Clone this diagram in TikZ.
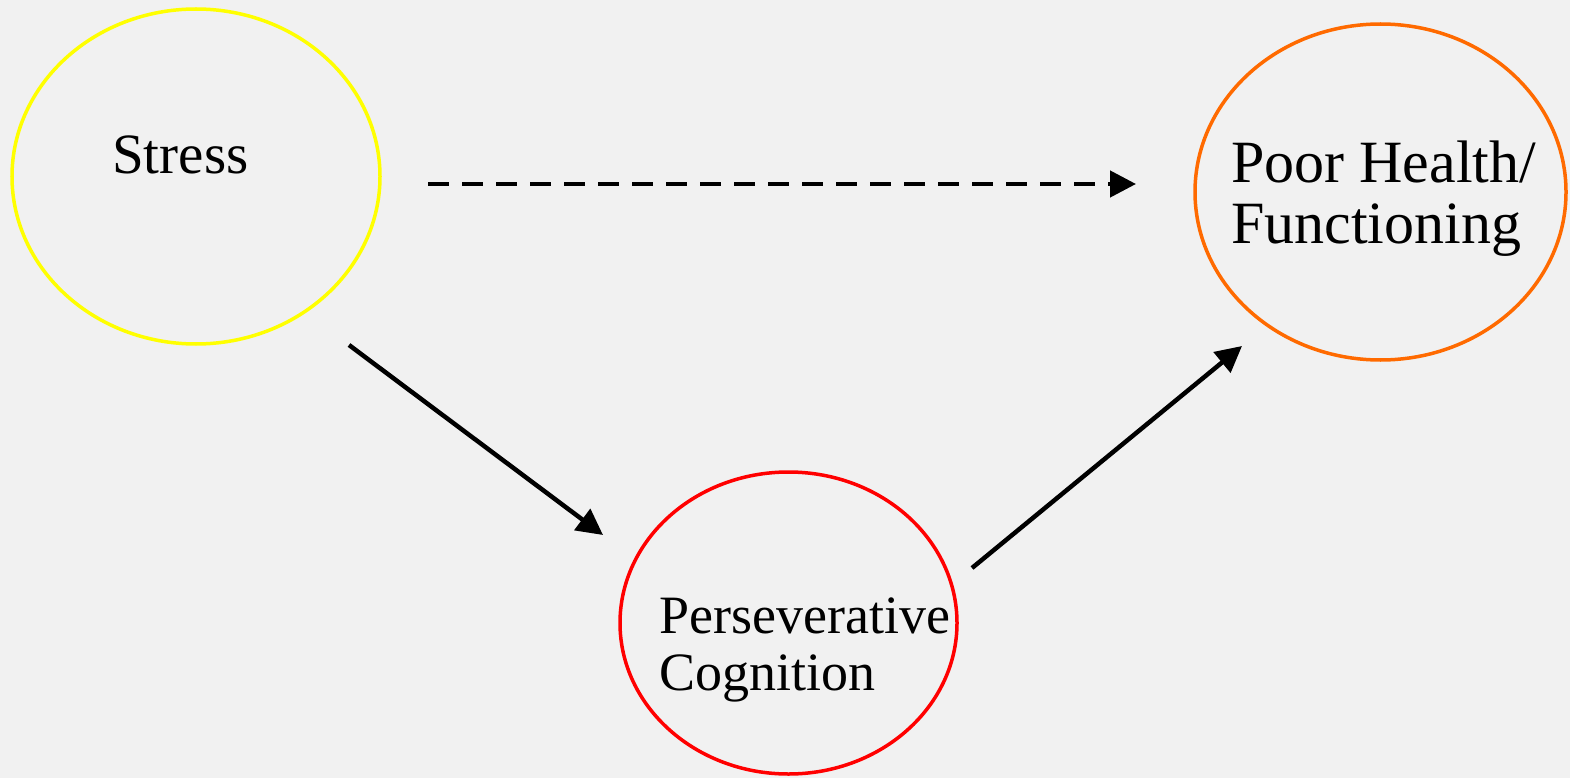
\documentclass[tikz,border=0pt]{standalone}
\usepackage{fontspec}
\setmainfont{Liberation Serif}
\usetikzlibrary{arrows.meta,shapes.geometric}
\definecolor{bg}{HTML}{F1F1F1}
\definecolor{cstress}{HTML}{FFFF00}
\definecolor{chealth}{HTML}{FF6A00}
\definecolor{cperse}{HTML}{FF0000}
\tikzset{
  oval/.style={draw, ellipse, line width=3.5pt, inner sep=0pt},
  lbl/.style={anchor=base west, inner sep=0pt, align=left, font=\fontsize{57}{59}\selectfont},
  conn/.style={line width=4.5pt, -{Triangle[length=26pt,width=26pt]}},
}
\begin{document}
\begin{tikzpicture}[x=1pt,y=-1pt]
\fill[bg] (0,0) rectangle (1570,778);
\useasboundingbox (0,0) rectangle (1570,778);
\node[oval, draw=cstress, minimum width=368pt, minimum height=335pt] (stress) at (196,176.5) {};
\node[oval, draw=chealth, minimum width=371pt, minimum height=336pt] (health) at (1380.5,192) {};
\node[oval, draw=cperse, minimum width=337pt, minimum height=302pt] (perse) at (788.5,623) {};
\node[lbl] (tstress) at (112,174) {Stress};
\node[lbl, font=\fontsize{60}{61}\selectfont] (thealth) at (1231,243) {Poor Health/\\Functioning};
\node[lbl, font=\fontsize{54}{57}\selectfont] (tperse) at (659,690) {Perseverative\\Cognition};
\coordinate (a1s) at (428,184);
\coordinate (a1e) at (1136,184);
\coordinate (a2s) at (349,345);
\coordinate (a2e) at (603,535);
\coordinate (a3s) at (972,568);
\coordinate (a3e) at (1242,346);
\draw[conn, dash pattern=on 21pt off 13pt] (a1s) -- (a1e);
\draw[conn] (a2s) -- (a2e);
\draw[conn] (a3s) -- (a3e);
\end{tikzpicture}
\end{document}
